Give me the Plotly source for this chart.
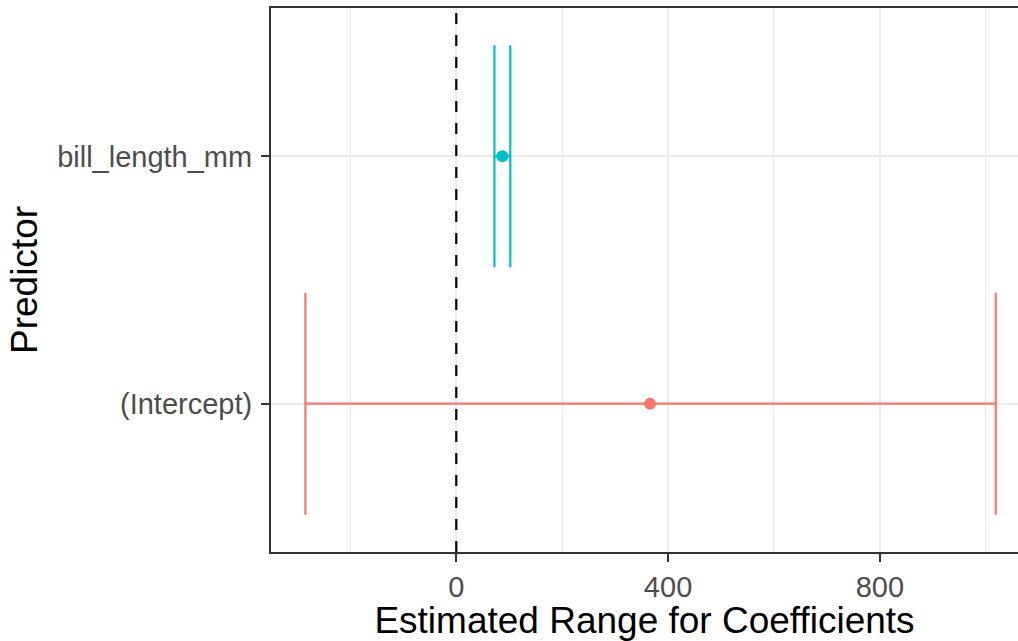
import plotly.graph_objects as go

# Data
predictors = ["(Intercept)", "bill_length_mm"]
estimates = [366.0, 87.0]
lower = [-285.0, 72.0]
upper = [1019.0, 102.0]
colors = ["#F8766D", "#00BFC4"]
ref_line = 0
x_tickvals = [0, 400, 800]

fig = go.Figure()
for i, (p, est, lo, hi, c) in enumerate(zip(predictors, estimates, lower, upper, colors)):
    fig.add_trace(go.Scatter(
        x=[est], y=[i + 1], mode="markers",
        marker=dict(color=c, size=12),
        error_x=dict(type="data", symmetric=False, array=[hi - est], arrayminus=[est - lo],
                     color=c, thickness=2.2, width=111),
        showlegend=False, name=p,
    ))

fig.add_vline(x=ref_line, line=dict(color="black", width=2.2, dash="11px,11px"), layer="above")

font_family = "Liberation Sans, Arial, sans-serif"
fig.update_layout(
    width=1018, height=641,
    margin=dict(l=271, r=0, t=8, b=89),
    paper_bgcolor="white", plot_bgcolor="white",
    font=dict(family=font_family),
    xaxis=dict(
        automargin=False,
        range=[-350, 1061], tickvals=x_tickvals, ticktext=[str(v) for v in x_tickvals],
        showgrid=True, gridcolor="#EBEBEB", gridwidth=2,
        minor=dict(tickvals=[-200, 200, 600, 1000], showgrid=True, gridcolor="#EBEBEB", gridwidth=1, ticklen=0),
        zeroline=False, showline=True, linecolor="#333333", linewidth=2, mirror=True,
        ticks="outside", ticklen=8, tickwidth=2, tickcolor="#333333",
        tickfont=dict(size=29, color="#4D4D4D"),
        title=dict(text="Estimated Range for Coefficients", font=dict(size=37, color="black"), standoff=3),
    ),
    yaxis=dict(
        automargin=False,
        range=[0.4, 2.6], tickvals=[1, 2], ticktext=predictors,
        showgrid=True, gridcolor="#EBEBEB", gridwidth=2,
        zeroline=False, showline=True, linecolor="#333333", linewidth=2, mirror=False,
        ticks="outside", ticklen=8, tickwidth=2, tickcolor="#333333",
        tickfont=dict(size=29, color="#4D4D4D"),
        ticklabelstandoff=3,
        title=dict(text="Predictor", font=dict(size=37, color="black"), standoff=8),
    ),
)

fig.write_html("out.html", config={"displayModeBar": False},
               post_script="document.body.style.margin='0';")
